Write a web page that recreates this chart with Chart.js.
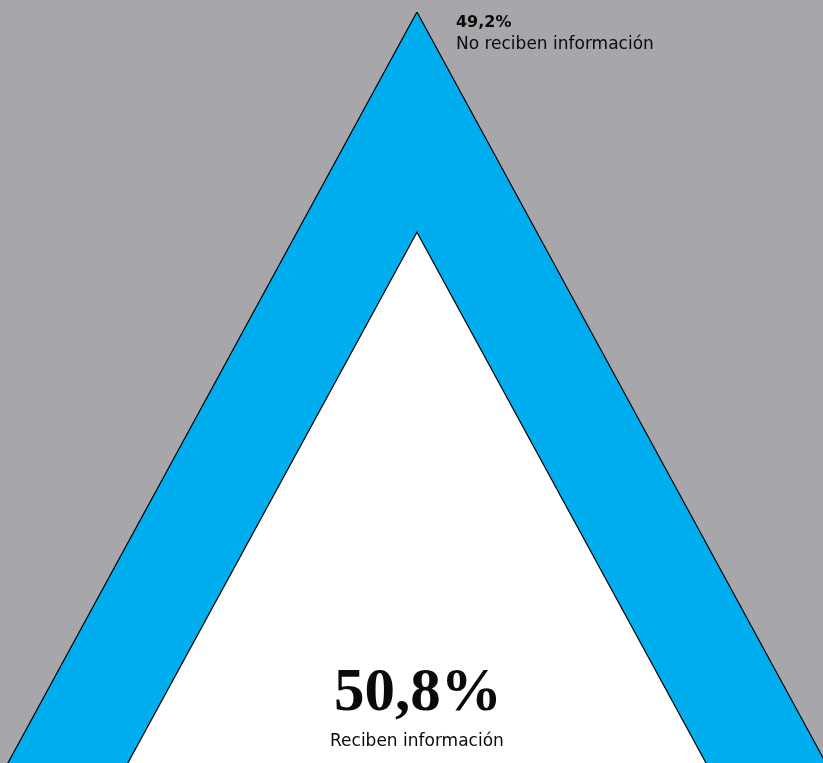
<!DOCTYPE html>
<html>
<head>
<meta charset="utf-8">
<script src="https://cdn.jsdelivr.net/npm/chart.js@4"></script>
<style>
  html, body { margin: 0; padding: 0; background: #a7a7ab; }
  #wrap { width: 823px; height: 763px; position: relative; }
</style>
</head>
<body>
<div id="wrap"><canvas id="tri"></canvas></div>
<script>
// shares (%)
const labels = ['No reciben información', 'Reciben información'];
const shares = [49.2, 50.8];

// triangle vertices in data units (outer = 100%, inner = 50,8% of area)
const outerX = [-1, 0, 1];
const outerY = [0, 1, 0];
const innerX = [-0.713, 0, 0.713];
const innerY = [0, 0.713, 0];

const toPoints = (xs, ys) => xs.map((x, i) => ({x: x, y: ys[i]}));

const textPlugin = {
    id: 'triText',
    afterDatasetsDraw(chart) {
        const {ctx, scales: {x, y}} = chart;
        ctx.save();
        ctx.fillStyle = '#0a0a0a';
        ctx.textBaseline = 'alphabetic';

        // top label, next to the apex
        let ax = x.getPixelForValue(outerX[1]) + 39;
        let ay = y.getPixelForValue(outerY[1]);
        ctx.textAlign = 'left';
        ctx.font = 'bold 16px "DejaVu Sans", sans-serif';
        ctx.fillText(shares[0].toFixed(1).replace('.', ',') + '%', ax, ay + 15);
        ctx.font = '17px "DejaVu Sans", sans-serif';
        ctx.fillText(labels[0], ax, ay + 37);

        // big label inside the white triangle
        const cx = x.getPixelForValue(innerX[1]);
        ctx.textAlign = 'center';
        ctx.font = 'bold 61px "Liberation Serif", "DejaVu Serif", serif';
        ctx.fillText(shares[1].toFixed(1).replace('.', ',') + '%', cx + 1, 710);
        ctx.font = '17px "DejaVu Sans", sans-serif';
        ctx.fillText(labels[1], cx, 746);
        ctx.restore();
    }
};

new Chart('tri', {
    type: 'line',
    data: {
        datasets: [{
            label: labels[1],
            data: toPoints(innerX, innerY),
            backgroundColor: '#ffffff',
            borderColor: '#000000',
            borderWidth: 1.2,
            fill: 'origin',
            pointRadius: 0,
            tension: 0,
            order: 0
        }, {
            label: labels[0],
            data: toPoints(outerX, outerY),
            backgroundColor: '#00adee',
            borderColor: '#000000',
            borderWidth: 1.2,
            fill: 'origin',
            pointRadius: 0,
            tension: 0,
            order: 1
        }]
    },
    options: {
        responsive: true,
        maintainAspectRatio: false,
        animation: false,
        layout: {padding: {top: 12, left: 0, right: 0, bottom: 0}},
        plugins: {legend: {display: false}, tooltip: {enabled: false}},
        scales: {
            x: {type: 'linear', min: -0.998, max: 0.972, display: false},
            y: {type: 'linear', min: 0.021, max: 1, display: false}
        }
    },
    plugins: [textPlugin]
});
</script>
</body>
</html>
